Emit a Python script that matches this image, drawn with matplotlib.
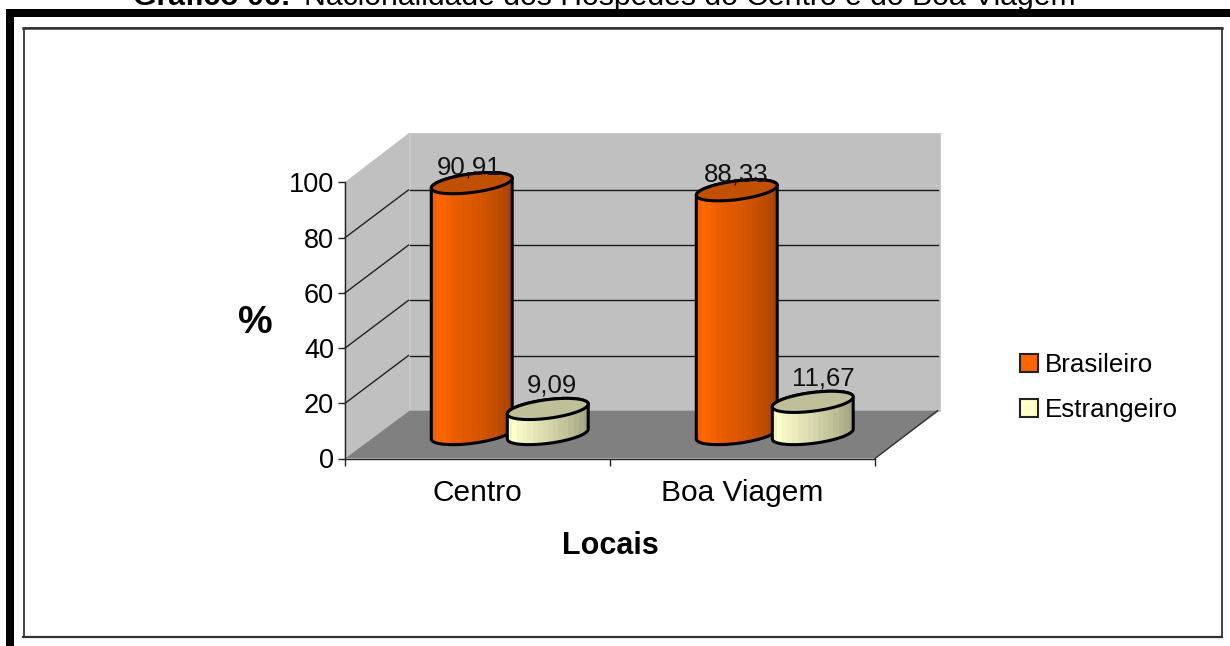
import matplotlib
matplotlib.use("Agg")
import matplotlib.pyplot as plt
import numpy as np
from matplotlib.patches import Patch, Polygon, Rectangle

plt.rcParams["font.family"] = ["Liberation Sans", "DejaVu Sans"]

# data
categories = ["Centro", "Boa Viagem"]
brasileiro = [90.91, 88.33]
estrangeiro = [9.09, 11.67]
labels_br = ["90,91", "88,33"]
labels_es = ["9,09", "11,67"]
yticks = [0, 20, 40, 60, 80, 100]

W, H = 1230, 646
fig = plt.figure(figsize=(W / 100, H / 100), dpi=100, facecolor="white")

# page frame, in pixels from the top left
bg = fig.add_axes([0, 0, 1, 1], zorder=0)
bg.set_xlim(0, W)
bg.set_ylim(H, 0)
bg.axis("off")
bg.add_patch(Rectangle((6, 9), W - 6, 8, color="black", lw=0))
bg.add_patch(Rectangle((6, 9), 8, H - 9, color="black", lw=0))
bg.add_patch(Rectangle((23.5, 28), 1198.5, 609, fc="white", ec="#222222", lw=1.2))
bg.plot([23, 1222], [28, 28], color="#333333", lw=1.8)
bg.plot([23, 1222], [637, 637], color="#333333", lw=1.6)

bg.text(133, 5, "Gráfico 06:", fontsize=21.7, fontweight="bold", va="baseline", ha="left")
bg.text(304, 5, "Nacionalidade dos Hóspedes do Centro e do Boa Viagem",
        fontsize=21.7, va="baseline", ha="left")

# front plane of the 3d box
left, right, top, bottom = 345, 875, 182.5, 458.5
ax = fig.add_axes([left / W, 1 - bottom / H, (right - left) / W, (bottom - top) / H], zorder=1)
ax.set_xlim(0, 2)
ax.set_ylim(0, 100)
ax.patch.set_alpha(0)
px_x = 2 / (right - left)
px_y = 100 / (bottom - top)
depth_x = 64.5 * px_x
depth_y = 47.8 * px_y
wall_top = 100.6

# walls
ax.add_patch(Polygon([(depth_x, depth_y), (2 + depth_x, depth_y), (2 + depth_x, wall_top + depth_y), (depth_x, wall_top + depth_y)],
                     fc="#C0C0C0", ec="#C0C0C0", lw=0.5, clip_on=False, zorder=1))
ax.add_patch(Polygon([(0, 0), (depth_x, depth_y), (depth_x, wall_top + depth_y), (0, 100)],
                     fc="#C0C0C0", ec="#C0C0C0", lw=0.5, clip_on=False, zorder=1))
ax.add_patch(Polygon([(0, 0), (2, 0), (2 + depth_x, depth_y), (depth_x, depth_y)],
                     fc="#808080", ec="none", clip_on=False, zorder=1.1))
for v in yticks[1:-1]:
    ax.plot([0, depth_x - px_x], [v, v + depth_y], color="#222222", lw=1, clip_on=False, zorder=2)
    ax.plot([depth_x, 2 + depth_x - 2 * px_x], [v + depth_y, v + depth_y],
            color="#1A1A1A", lw=1, clip_on=False, zorder=2)
ax.plot([2, 2 + depth_x - 2 * px_x], [0, depth_y], color="#333333", lw=1, clip_on=False, zorder=2)


def ellipse(cx, cy, t):
    # tilted ellipse of the cylinder ends, axes given in pixels
    x = cx + (40 * np.cos(t) + 6 * np.sin(t)) * px_x
    y = cy + (3.5 * np.cos(t) + 10 * np.sin(t)) * px_y
    return x, y


def cylinder(cx, value, side_colors, top_color, z):
    base = depth_y / 2 + 0.2
    t0 = np.arctan2(6, 40)
    bx, by = ellipse(cx, base, np.linspace(t0 + np.pi, t0 + 2 * np.pi, 60))
    tx, ty = ellipse(cx, base + value, np.linspace(t0, t0 + np.pi, 60))
    body = np.column_stack([np.r_[bx, tx], np.r_[by, ty]])
    im = ax.imshow(np.array([matplotlib.colors.to_rgb(c) for c in side_colors])[None, :, :],
                   extent=[cx - 41 * px_x, cx + 41 * px_x, base - 12 * px_y, base + value + 12 * px_y],
                   aspect="auto", interpolation="nearest", zorder=z, clip_on=True)
    patch = Polygon(body, fc="none", ec="black", lw=2.2, clip_on=False, zorder=z + 0.1)
    ax.add_patch(patch)
    im.set_clip_path(patch)
    ex, ey = ellipse(cx, base + value, np.linspace(0, 2 * np.pi, 120))
    ax.fill(ex, ey, fc=top_color, ec="black", lw=2.2, clip_on=False, zorder=z + 0.2)


orange_side = ["#F26100", "#FF6600", "#FB6400", "#F36100", "#EB5E00", "#E65C00", "#E25A00", "#DE5900",
               "#DA5700", "#D55500", "#CF5300", "#C95000", "#C24E00", "#BA4A00", "#B24700", "#A84300"]
cream_side = ["#F2F2C6", "#FFFFCC", "#F6F6C4", "#F0F0C0", "#EAEABB", "#E4E4B6", "#DFDFB2", "#DADAAE",
              "#D4D4AA", "#CECEA5", "#C8C8A0", "#C2C29B", "#BBBB96", "#B4B490", "#ACAC8A", "#A4A483"]

shift = depth_x / 2
half_gap = 38 * px_x
br_dx = [-2.5, -1]
es_dx = [4.5, 11]
for i in range(len(categories)):
    center = i + 0.5 + shift
    cylinder(center - half_gap, brasileiro[i], orange_side, "#C05000", 3)
    cylinder(center + half_gap, estrangeiro[i], cream_side, "#BFBF99", 5)
    ax.text(center - half_gap + br_dx[i] * px_x, brasileiro[i] + depth_y / 2 + 1.5, labels_br[i],
            ha="center", va="bottom", fontsize=18.5, color="#111111", zorder=8, clip_on=False)
    ax.text(center + half_gap + es_dx[i] * px_x, estrangeiro[i] + depth_y / 2 + 4.2, labels_es[i],
            ha="center", va="bottom", fontsize=18.5, color="#111111", zorder=8, clip_on=False)

# axes
for side in ["top", "right"]:
    ax.spines[side].set_visible(False)
for side in ["left", "bottom"]:
    ax.spines[side].set_color("#222222")
    ax.spines[side].set_linewidth(1)
    ax.spines[side].set_zorder(2.5)
ax.set_yticks(yticks)
ax.set_yticklabels([str(v) for v in yticks], fontsize=19.5)
ax.set_xticks([0, 1, 2])
ax.set_xticklabels([])
ax.set_xticks([0.5, 1.5], categories, minor=True, fontsize=21.5)
ax.tick_params(axis="x", which="minor", length=0, pad=15)
ax.tick_params(axis="x", which="major", length=5, width=1, color="#222222")
ax.tick_params(axis="y", length=5, width=1, color="#222222", pad=3)
ax.set_xlabel("Locais", fontsize=22, fontweight="bold", labelpad=17)
ax.set_ylabel("%", fontsize=28, fontweight="bold", rotation=0, labelpad=0)
ax.yaxis.set_label_coords(-0.17, 0.427)

handles = [Patch(fc="#FF6600", ec="#222222", lw=1.5), Patch(fc="#FFFFCC", ec="#222222", lw=1.5)]
leg = ax.legend(handles, ["Brasileiro", "Estrangeiro"], loc="center left",
                bbox_to_anchor=(997 / W, 1 - 387.5 / H), bbox_transform=fig.transFigure,
                frameon=False, fontsize=18.7, handlelength=0.68, handleheight=0.68,
                handletextpad=0.25, labelspacing=0.82)

fig.savefig("out.png", dpi=100)
